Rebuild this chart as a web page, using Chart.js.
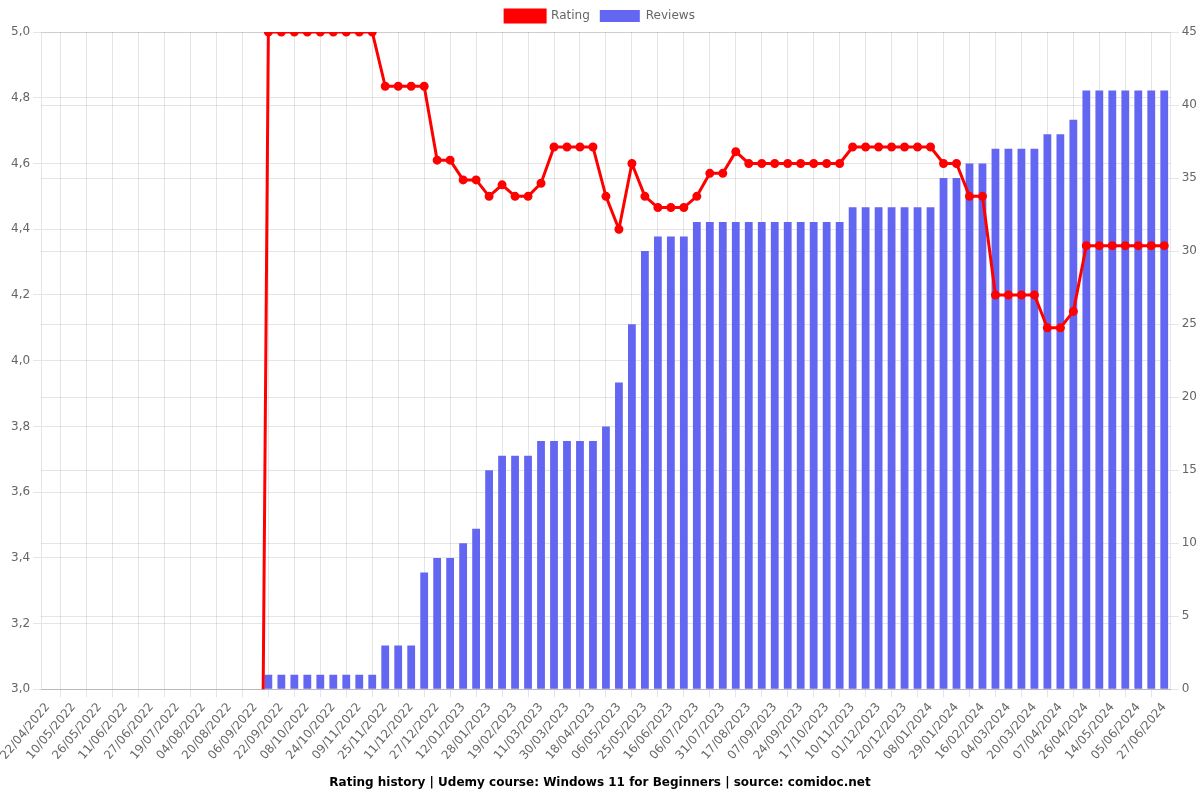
<!DOCTYPE html>
<html>
<head>
<meta charset="utf-8">
<title>Rating history</title>
<script src="https://cdn.jsdelivr.net/npm/chart.js@4"></script>
<style>
  html, body { margin: 0; padding: 0; background: #fff; }
  #wrap { width: 1200px; height: 800px; }
</style>
</head>
<body>
<div id="wrap"><canvas id="chart"></canvas></div>
<script>
'use strict';

// Datum je Messpunkt (nur jeder zweite wird beschriftet)
const labels = [
  '22/04/2022', '01/05/2022', '10/05/2022', '18/05/2022', '26/05/2022', '03/06/2022',
  '11/06/2022', '19/06/2022', '27/06/2022', '08/07/2022', '19/07/2022', '27/07/2022',
  '04/08/2022', '12/08/2022', '20/08/2022', '29/08/2022', '06/09/2022', '14/09/2022',
  '22/09/2022', '30/09/2022', '08/10/2022', '16/10/2022', '24/10/2022', '01/11/2022',
  '09/11/2022', '17/11/2022', '25/11/2022', '03/12/2022', '11/12/2022', '19/12/2022',
  '27/12/2022', '04/01/2023', '12/01/2023', '20/01/2023', '28/01/2023', '08/02/2023',
  '19/02/2023', '28/02/2023', '11/03/2023', '20/03/2023', '30/03/2023', '08/04/2023',
  '18/04/2023', '27/04/2023', '06/05/2023', '15/05/2023', '25/05/2023', '05/06/2023',
  '16/06/2023', '26/06/2023', '06/07/2023', '18/07/2023', '31/07/2023', '08/08/2023',
  '17/08/2023', '27/08/2023', '07/09/2023', '15/09/2023', '24/09/2023', '05/10/2023',
  '17/10/2023', '29/10/2023', '10/11/2023', '20/11/2023', '01/12/2023', '10/12/2023',
  '20/12/2023', '29/12/2023', '08/01/2024', '18/01/2024', '29/01/2024', '07/02/2024',
  '16/02/2024', '24/02/2024', '04/03/2024', '12/03/2024', '20/03/2024', '29/03/2024',
  '07/04/2024', '16/04/2024', '26/04/2024', '05/05/2024', '14/05/2024', '25/05/2024',
  '05/06/2024', '16/06/2024', '27/06/2024'
];

// Durchschnittliche Bewertung (0 = noch keine Bewertung)
const rating = [
  0, 0, 0, 0, 0, 0, 0, 0, 0, 0, 0, 0, 0, 0, 0, 0, 0,
  5.0, 5.0, 5.0, 5.0, 5.0, 5.0, 5.0, 5.0, 5.0,
  4.835, 4.835, 4.835, 4.835,
  4.61, 4.61, 4.55, 4.55, 4.5, 4.535, 4.5, 4.5, 4.54,
  4.65, 4.65, 4.65, 4.65,
  4.5, 4.4, 4.6, 4.5, 4.466, 4.466, 4.466, 4.5, 4.57, 4.57, 4.636,
  4.6, 4.6, 4.6, 4.6, 4.6, 4.6, 4.6, 4.6,
  4.65, 4.65, 4.65, 4.65, 4.65, 4.65, 4.65,
  4.6, 4.6, 4.5, 4.5,
  4.2, 4.2, 4.2, 4.2,
  4.1, 4.1, 4.15,
  4.35, 4.35, 4.35, 4.35, 4.35, 4.35, 4.35
];

// Anzahl Bewertungen (kumuliert)
const reviews = [
  0, 0, 0, 0, 0, 0, 0, 0, 0, 0, 0, 0, 0, 0, 0, 0, 0,
  1, 1, 1, 1, 1, 1, 1, 1, 1,
  3, 3, 3, 8, 9, 9, 10, 11, 15, 16, 16, 16,
  17, 17, 17, 17, 17, 18, 21, 25, 30, 31, 31, 31,
  32, 32, 32, 32, 32, 32, 32, 32, 32, 32, 32, 32,
  33, 33, 33, 33, 33, 33, 33,
  35, 35, 36, 36, 37, 37, 37, 37, 38, 38, 39,
  41, 41, 41, 41, 41, 41, 41
];

const ratingTicks  = { min: 3, max: 5 };
const reviewTicks  = { min: 0, max: 45 };

const TITEL = 'Rating history | Udemy course: Windows 11 for Beginners | source: comidoc.net';

Chart.defaults.font.family = "'DejaVu Sans', sans-serif";
Chart.defaults.font.size = 12;
Chart.defaults.color = '#666';

new Chart(document.getElementById('chart'), {
  type: 'bar',
  data: {
    labels,
    datasets: [
      {
        type: 'line',
        label: 'Rating',
        data: rating,
        yAxisID: 'y',
        borderColor: 'rgb(255, 0, 0)',
        backgroundColor: 'rgb(255, 0, 0)',
        borderWidth: 3,
        pointRadius: 3,
        tension: 0,
      },
      {
        type: 'bar',
        label: 'Reviews',
        data: reviews,
        yAxisID: 'y1',
        backgroundColor: 'rgb(99, 102, 241)',
        barPercentage: 0.75,
      },
    ],
  },
  options: {
    responsive: true,
    maintainAspectRatio: false,
    animation: false,
    locale: 'de-DE',
    plugins: {
      legend: { position: 'top' },
      title: {
        display: true,
        position: 'bottom',
        text: TITEL,
        color: '#000',
        font: { size: 12, weight: 'bold' },
      },
      tooltip: { enabled: false },
    },
    scales: {
      y: {
        position: 'left',
        min: ratingTicks.min,
        max: ratingTicks.max,
      },
      y1: {
        position: 'right',
        min: reviewTicks.min,
        max: reviewTicks.max,
      },
    },
  },
});
</script>
</body>
</html>
